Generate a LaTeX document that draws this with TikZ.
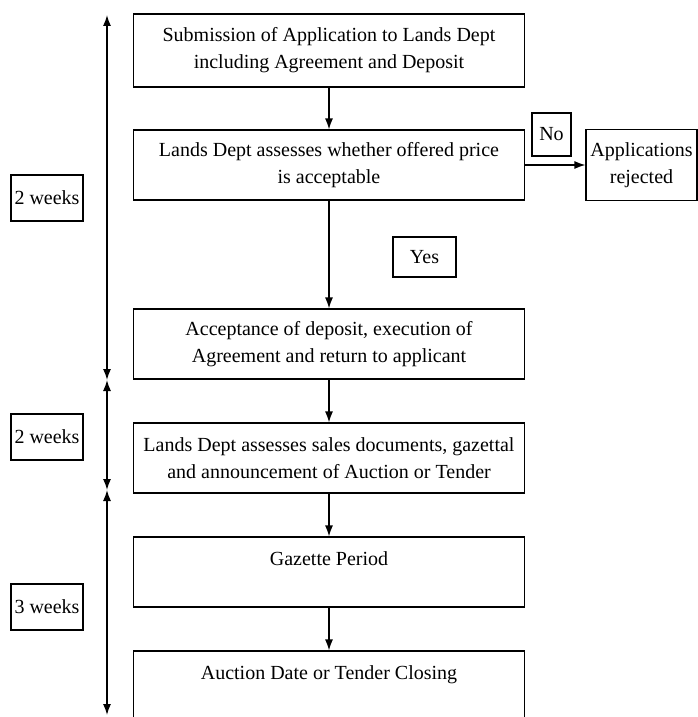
\documentclass[tikz,border=0pt]{standalone}
\usepackage{fontspec}
\setmainfont{Liberation Serif}
\usetikzlibrary{arrows.meta}
\begin{document}
\begin{tikzpicture}[x=1pt,y=-1pt,
  every node/.style={font=\fontsize{20}{27}\selectfont},
  mainbox/.style={draw,line width=1.2pt,minimum width=391pt,inner sep=0pt,align=center},
  smallbox/.style={draw,line width=1.2pt,inner sep=0pt,align=center},
  flow/.style={line width=1.3pt,-{Latex[length=11pt,width=8pt]}},
  span/.style={line width=1.3pt,{Latex[length=11pt,width=8pt]}-{Latex[length=11pt,width=8pt]}}]
\useasboundingbox (0,0) rectangle (698,717);
\clip (0,0) rectangle (698,717);
% main boxes
\node[mainbox,minimum height=73pt] (b1) at (329,50.5) {Submission of Application to Lands Dept\\including Agreement and Deposit};
\node[mainbox,minimum height=70pt] (b2) at (329,165) {Lands Dept assesses whether offered price\\is acceptable};
\node[mainbox,minimum height=70pt] (b3) at (329,344) {Acceptance of deposit, execution of\\Agreement and return to applicant};
\node[mainbox,minimum height=70pt] (b4) at (329,458) {Lands Dept assesses sales documents, gazettal\\and announcement of Auction or Tender};
\node[mainbox,minimum height=70pt] (b5) at (329,572) {Gazette Period\\\mbox{}};
\node[mainbox,minimum height=70pt] (b6) at (329,686) {Auction Date or Tender Closing\\\mbox{}};
% side boxes
\node[smallbox,minimum width=63pt,minimum height=40pt] (yes) at (424.5,257) {Yes};
\node[smallbox,minimum width=39pt,minimum height=43pt] (no) at (551.5,134.5) {No};
\node[smallbox,minimum width=111pt,minimum height=71pt] (rej) at (641.5,165) {Applications\\rejected};
\node[smallbox,minimum width=72pt,minimum height=46pt] (w1) at (47,198) {2 weeks};
\node[smallbox,minimum width=72pt,minimum height=46pt] (w2) at (47,437) {2 weeks};
\node[smallbox,minimum width=72pt,minimum height=46pt] (w3) at (47,607) {3 weeks};
% flow arrows
\draw[flow] (b1) -- (b2);
\draw[flow] (b2) -- (b3);
\draw[flow] (b3) -- (b4);
\draw[flow] (b4) -- (b5);
\draw[flow] (b5) -- (b6);
\draw[flow] (b2.east) -- (b2.east -| rej.west);
% timeline
\coordinate (t0) at (107,15);
\coordinate (t1) at (107,380);
\coordinate (t2) at (107,490);
\coordinate (t3) at (107,715);
\draw[span] (t0) -- (t1);
\draw[span] (t1) -- (t2);
\draw[span] (t2) -- (t3);
\end{tikzpicture}
\end{document}
